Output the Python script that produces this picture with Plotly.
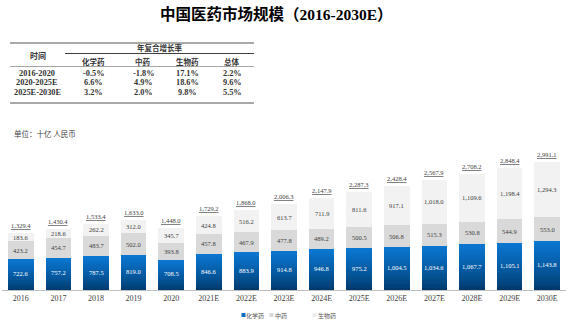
import plotly.graph_objects as go

years = ["2016", "2017", "2018", "2019", "2020", "2021E", "2022E", "2023E",
         "2024E", "2025E", "2026E", "2027E", "2028E", "2029E", "2030E"]
chem = [722.6, 757.2, 787.5, 819.0, 708.5, 846.6, 883.9, 914.8, 946.8, 975.2,
        1004.5, 1034.6, 1067.7, 1105.1, 1143.8]
tcm = [423.2, 454.7, 483.7, 502.0, 393.8, 457.8, 467.9, 477.8, 489.2, 500.5,
       506.8, 515.3, 530.8, 544.9, 553.0]
bio = [183.6, 218.6, 262.2, 312.0, 345.7, 424.8, 516.2, 613.7, 711.9, 811.6,
       917.1, 1018.0, 1109.6, 1198.4, 1294.3]
total = [1329.4, 1430.4, 1533.4, 1633.0, 1448.0, 1729.2, 1868.0, 2006.3,
         2147.9, 2287.3, 2428.4, 2567.9, 2708.2, 2848.4, 2991.1]

series_names = ["化学药", "中药", "生物药"]

table_periods = ["2016-2020", "2020-2025E", "2025E-2030E"]
table_cols = ["化学药", "中药", "生物药", "总体"]
table_vals = [["-0.5%", "-1.8%", "17.1%", "2.2%"],
              ["6.6%", "4.9%", "18.6%", "9.6%"],
              ["3.2%", "2.0%", "9.8%", "5.5%"]]

W, H = 574, 326
L, R, T, B = 2, 8, 150, 36
PW, PH = W - L - R, H - T - B
YMAX = 3270

SERIF = "Liberation Serif, Times New Roman, Noto Sans CJK SC, serif"
CJK = "Noto Sans CJK SC, sans-serif"

xs = list(range(len(years)))


def px2x(px):
    return (px - L) / PW


def px2y(py):
    return (H - B - py) / PH


def lerp(c1, c2, t):
    a = [int(c1[i:i + 2], 16) for i in (1, 3, 5)]
    b = [int(c2[i:i + 2], 16) for i in (1, 3, 5)]
    return "#%02x%02x%02x" % tuple(round(a[k] + (b[k] - a[k]) * t) for k in range(3))


fig = go.Figure()

# chemical drugs: gradient made of stacked slices
N = 18
bottom_c, top_c = "#003a6c", "#0a76d0"
for k in range(N):
    t = k / (N - 1)
    fig.add_trace(go.Bar(
        x=xs, y=[v / N for v in chem],
        marker=dict(color=lerp(bottom_c, top_c, t ** 0.8), line=dict(width=0)),
        showlegend=False, hoverinfo="skip", name=series_names[0]))

fig.add_trace(go.Bar(x=xs, y=tcm, name=series_names[1],
                     marker=dict(color="#d9d9d9", line=dict(width=0)),
                     showlegend=False))
fig.add_trace(go.Bar(x=xs, y=bio, name=series_names[2],
                     marker=dict(color="#f2f2f2", line=dict(width=0)),
                     showlegend=False))

ann = []
shapes = []


def txt(x, y, text, font, xanchor="center", yanchor="middle", **kw):
    d = dict(x=x, y=y, text=text, showarrow=False, font=font,
             xanchor=xanchor, yanchor=yanchor)
    d.update(kw)
    ann.append(d)


def ptxt(px, py, text, font, xanchor="center"):
    txt(px2x(px), px2y(py), text, font, xanchor=xanchor, xref="paper", yref="paper")


# segment labels
for i in xs:
    txt(i, chem[i] / 2 + 20, f"{chem[i]:,.1f}", dict(family=SERIF, size=6.5, color="white"))
    txt(i, chem[i] + tcm[i] / 2, f"{tcm[i]:,.1f}", dict(family=SERIF, size=6.5, color="#404040"))
    txt(i, chem[i] + tcm[i] + bio[i] / 2, f"{bio[i]:,.1f}",
        dict(family=SERIF, size=6.5, color="#404040"))
    txt(i, total[i], f"<u>{total[i]:,.1f}</u>", dict(family=SERIF, size=6.5, color="#404040"),
        yanchor="bottom", yshift=2)

# title
ptxt(276, 14, "<b>中国医药市场规模（2016-2030E）</b>",
     dict(family=SERIF, size=15.5, color="#000000"))

# unit
ptxt(12, 133, "单位：十亿 人民币", dict(family=CJK, size=7.5, color="#404040"), xanchor="left")

# table
tcol = "#333333"
ptxt(38, 56, "<b>时间</b>", dict(family=CJK, size=8, color=tcol))
ptxt(160, 48, "<b>年复合增长率</b>", dict(family=CJK, size=7.5, color=tcol))
col_x = [93, 143, 187, 232]
for cx, name in zip(col_x, table_cols):
    ptxt(cx, 61, f"<b>{name}</b>", dict(family=CJK, size=7.5, color=tcol))
row_y = [73, 83, 93]
for ry, per, vals in zip(row_y, table_periods, table_vals):
    ptxt(37, ry, f"<b>{per}</b>", dict(family=SERIF, size=8.3, color=tcol))
    for cx, v in zip(col_x, vals):
        ptxt(cx, ry, f"<b>{v}</b>", dict(family=SERIF, size=8.3, color=tcol))


def hline(x0, x1, y, color, w):
    shapes.append(dict(type="line", xref="paper", yref="paper", x0=px2x(x0), x1=px2x(x1),
                       y0=px2y(y), y1=px2y(y), line=dict(color=color, width=w)))


hline(10, 254, 43, "#8c8c8c", 1.5)
hline(65, 254, 53.5, "#404040", 1.2)
hline(10, 254, 66.5, "#a6a6a6", 1)
hline(10, 254, 103, "#8c8c8c", 1.5)

# legend (manual)
leg = [(243.5, "#0a6fc2", 255, series_names[0]), (271.5, "#d9d9d9", 281, series_names[1]),
       (314.5, "#ececec", 326.5, series_names[2])]
for sx, col, tx, name in leg:
    shapes.append(dict(type="rect", xref="paper", yref="paper",
                       x0=px2x(sx - 2), x1=px2x(sx + 2), y0=px2y(317), y1=px2y(313),
                       fillcolor=col, line=dict(width=0)))
    ptxt(tx, 315, name, dict(family=CJK, size=6, color="#595959"))

fig.update_layout(
    width=W, height=H, margin=dict(l=L, r=R, t=T, b=B),
    barmode="stack", bargap=0.32,
    plot_bgcolor="white", paper_bgcolor="white",
    showlegend=False,
    xaxis=dict(range=[-0.5, len(years) - 0.5], tickmode="array", tickvals=xs, ticktext=years,
               showline=True, linecolor="#bfbfbf", linewidth=1, ticks="", zeroline=False,
               tickfont=dict(family=SERIF, size=8, color="#404040"), showgrid=False),
    yaxis=dict(range=[0, YMAX], visible=False, showgrid=False),
    annotations=ann, shapes=shapes,
)

fig.write_html("out.html")
